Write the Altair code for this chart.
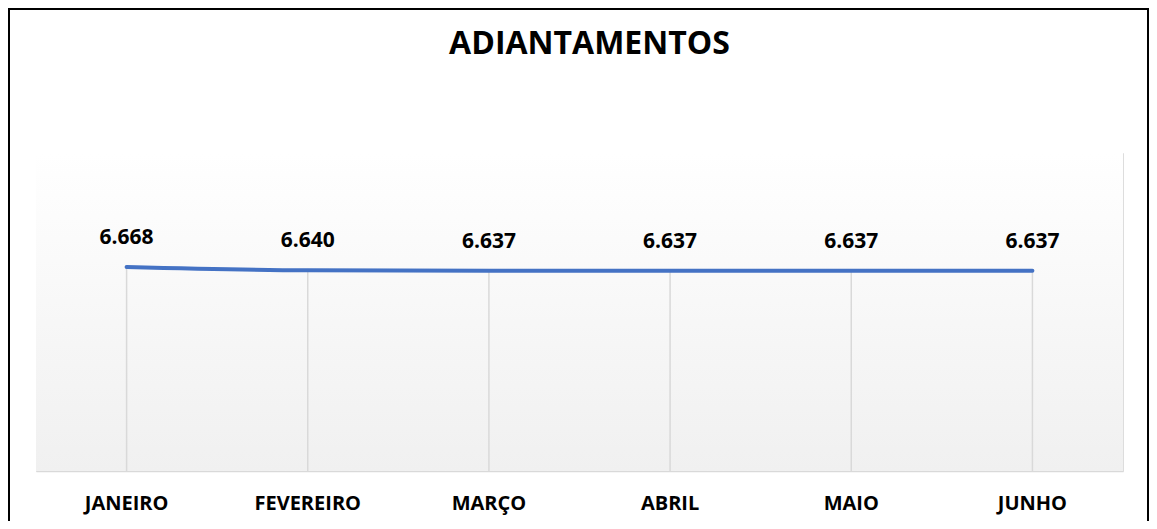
import altair as alt
import pandas as pd

months = ["JANEIRO", "FEVEREIRO", "MARÇO", "ABRIL", "MAIO", "JUNHO"]
values = [6668, 6640, 6637, 6637, 6637, 6637]
labels = [f"{v:,}".replace(",", ".") for v in values]
chart_title = "ADIANTAMENTOS"

df = pd.DataFrame({"mes": months, "valor": values, "rotulo": labels})

W, H = 1087, 318
FONT = "Open Sans"

x_enc = alt.X("mes:N", sort=months,
              scale=alt.Scale(paddingInner=0, paddingOuter=0),
              axis=alt.Axis(title=None, labelAngle=0, labelFont=FONT, labelFontSize=20,
                            labelFontWeight="bold", labelColor="#000000", labelPadding=22,
                            ticks=False, domainColor="#d9d9d9", domainWidth=1.5, grid=False))
y_enc = alt.Y("valor:Q", scale=alt.Scale(domain=[4954, 7626], nice=False, zero=False),
              axis=None)

bg = alt.Chart(df).mark_rect(
    fill=alt.Gradient(gradient="linear",
                      stops=[alt.GradientStop(color="#ffffff", offset=0),
                             alt.GradientStop(color="#f0f0f0", offset=1)],
                      x1=0, x2=0, y1=0, y2=1),
    stroke=None
).encode(x=alt.value(0), x2=alt.value(W), y=alt.value(0), y2=alt.value(H))

drops = alt.Chart(df).mark_rule(color="#d9d9d9", strokeWidth=1.5).encode(
    x=x_enc, y=y_enc, y2=alt.value(H))

line = alt.Chart(df).mark_line(color="#4472C4", strokeWidth=4, interpolate="monotone",
                               strokeCap="round").encode(x=x_enc, y=y_enc)

text = alt.Chart(df).mark_text(font=FONT, fontSize=21, fontWeight="bold", color="#000000",
                               baseline="alphabetic", dy=-23).encode(
    x=x_enc, y=y_enc, text="rotulo:N")

title = alt.Chart(pd.DataFrame({"t": [chart_title]})).mark_text(
    font=FONT, fontSize=32, fontWeight="bold", color="#000000",
    baseline="alphabetic", align="center").encode(
    x=alt.value(W / 2 + 10), y=alt.value(-99), text="t:N")

border = alt.Chart(df).mark_rect(fill=None, stroke="#000000", strokeWidth=2).encode(
    x=alt.value(-27), x2=alt.value(1112), y=alt.value(-144), y2=alt.value(420))

chart = alt.layer(bg, drops, line, text, title, border).properties(
    width=W, height=H,
    autosize=alt.AutoSizeParams(type="none"),
    padding={"left": 28, "top": 145, "right": 26, "bottom": 50},
).configure_view(stroke=None).configure(background="#ffffff")

chart.save("out.html", embed_options={"renderer": "svg", "actions": False})
